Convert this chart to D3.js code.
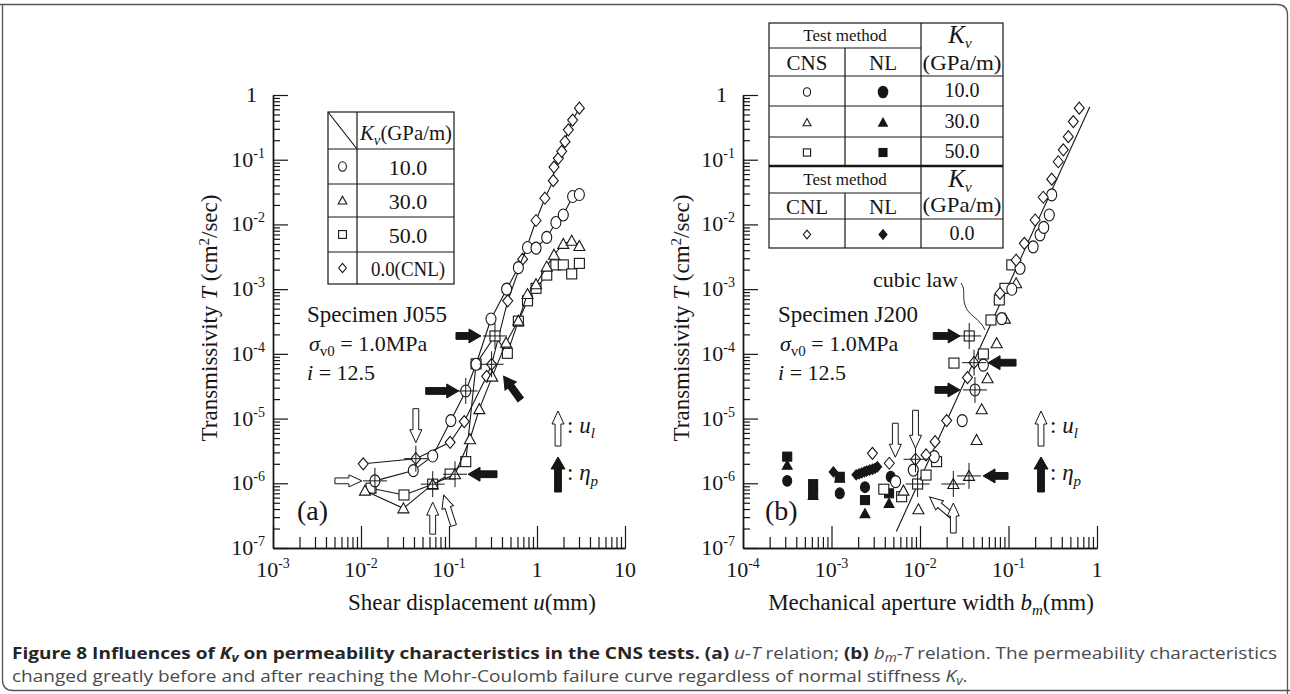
<!DOCTYPE html>
<html><head><meta charset="utf-8">
<script src="https://cdn.jsdelivr.net/npm/d3@7"></script>
<style>body{margin:0;background:#fff}svg{display:block}</style>
</head><body>
<svg id="c" width="1290" height="694"></svg>
<script>
// ---------------- DATA ----------------
// Panel (a): shear displacement u (mm) vs transmissivity T (cm2/sec)
const aCircleU = [0.0144,0.0393,0.0653,0.105,0.155,0.203,0.30,0.452,0.614,0.78,0.975,1.29,1.64,1.99,2.54,3.03];
const aCircleT = [1.09e-6,1.57e-6,2.64e-6,9.3e-6,2.67e-5,6.9e-5,3.46e-4,1.0e-3,2.15e-3,4.4e-3,4.3e-3,6.3e-3,1.07e-2,1.4e-2,2.7e-2,2.9e-2];
const aTriU = [0.0111,0.0303,0.0653,0.117,0.173,0.221,0.31,0.445,0.614,0.78,0.975,1.29,1.56,1.99,2.48,3.03];
const aTriT = [7.7e-7,4.1e-7,9.7e-7,1.38e-6,4.8e-6,1.4e-5,4.45e-5,1.49e-4,3.26e-4,8.4e-4,1.19e-3,2.23e-3,3.4e-3,5.0e-3,5.6e-3,4.65e-3];
const aSqU = [0.013,0.0308,0.0653,0.103,0.155,0.203,0.333,0.46,0.614,0.78,0.975,1.29,1.64,1.99,2.48,3.03];
const aSqT = [8.4e-7,6.6e-7,9.7e-7,1.39e-6,2.16e-6,7.0e-5,1.89e-4,1.02e-4,3.2e-4,6.6e-4,1.03e-3,1.65e-3,2.37e-3,2.37e-3,1.72e-3,2.5e-3];
const aDiaU = [0.0106,0.042,0.103,0.149,0.268,0.305,0.465,0.687,0.975,1.23,1.53,1.56,1.75,1.91,2.08,2.27,2.54,3.03];
const aDiaT = [2.0e-6,2.4e-6,4.3e-6,9e-6,4.5e-5,6.9e-5,6.6e-4,2.9e-3,0.0115,0.0254,0.0475,0.077,0.105,0.135,0.19,0.29,0.41,0.625];
// crossed (marked) points in (a)
const aCrossU = [0.0144,0.042,0.0653,0.117,0.155,0.333,0.305];
const aCrossT = [1.09e-6,2.4e-6,9.7e-7,1.38e-6,2.67e-5,1.89e-4,6.9e-5];

// Panel (b): mechanical aperture b_m (mm) vs T
const bCnsCircleB = [0.0053,0.0084,0.0145,0.030,0.0418,0.052,0.0837,0.109,0.135,0.19,0.227,0.25,0.289,0.308];
const bCnsCircleT = [1.06e-6,1.6e-6,2.58e-6,9.3e-6,2.77e-5,6.7e-5,3.5e-4,9.96e-4,2.1e-3,4.5e-3,6.9e-3,9e-3,0.014,0.0286];
const bCnsTriB = [0.0065,0.0096,0.0238,0.0358,0.0436,0.0498,0.058,0.0735,0.0912,0.122];
const bCnsTriT = [7.7e-7,3.96e-7,9.75e-7,1.3e-6,4.67e-6,1.39e-5,4.2e-5,1.46e-4,3.5e-4,1.23e-3];
const bCnsSqB = [0.0039,0.0062,0.0094,0.0117,0.0154,0.0242,0.036,0.052,0.0634,0.0787,0.0912,0.109];
const bCnsSqT = [8.1e-7,6.2e-7,9.75e-7,1.34e-6,2.16e-6,7.2e-5,1.89e-4,9.96e-5,3.34e-4,6.8e-4,1.03e-3,2.37e-3];
const bCnlDiaB = [0.0029,0.0045,0.0089,0.0117,0.0148,0.020,0.0344,0.0408,0.0802,0.122,0.151,0.2,0.247,0.308,0.365,0.416,0.474,0.54,0.63];
const bCnlDiaT = [2.9e-6,2.04e-6,2.35e-6,2.74e-6,4.4e-6,9.3e-6,4.3e-5,7.3e-5,8.6e-4,2.8e-3,5.1e-3,0.0117,0.0263,0.05,0.093,0.142,0.227,0.388,0.625];
const bNlCircleB = [3.16e-4,1.24e-3,2.39e-3,4.67e-3];
const bNlCircleT = [1.09e-6,7.0e-7,8.7e-7,1.26e-6];
const bNlTriB = [3.16e-4,6.2e-4,1.24e-3,2.39e-3,4.47e-3];
const bNlTriT = [1.9e-6,6.5e-7,1.2e-6,3.4e-7,4.9e-7];
const bNlSqB = [3.16e-4,6.2e-4,6.2e-4,1.24e-3,2.39e-3,4.47e-3];
const bNlSqT = [2.58e-6,9.7e-7,7.0e-7,1.26e-6,5.5e-7,7.0e-7];
const bNlDiaB = [1.05e-3,1.9e-3,2.05e-3,2.2e-3,2.35e-3,2.5e-3,2.7e-3,2.9e-3,3.1e-3,3.3e-3];
const bNlDiaT = [1.5e-6,1.35e-6,1.4e-6,1.45e-6,1.5e-6,1.55e-6,1.6e-6,1.65e-6,1.7e-6,1.8e-6];
const bCrossB = [0.0089,0.036,0.0408,0.0418,0.0358,0.0238,0.0094];
const bCrossT = [2.35e-6,1.89e-4,7.3e-5,2.77e-5,1.3e-6,9.75e-7,9.75e-7];
const cubicB = [0.0054,0.83];
const cubicT = [1.8e-7,0.66];

// legend / tick labels
const kvLabelsA = ["10.0","30.0","50.0","0.0(CNL)"];
const kvLabelsB = ["10.0","30.0","50.0"];
const kvLabelB2 = "0.0";
const yTickExp = [0,-1,-2,-3,-4,-5,-6,-7];
const xTickExpA = [-3,-2,-1,0,1];
const xTickExpB = [-4,-3,-2,-1,0];

// ---------------- DRAW ----------------
const svg = d3.select("#c");
const SERIF = "'Liberation Serif','Times New Roman',serif";
const INK = "#161616";

const yT = d3.scaleLog().domain([1e-7,1]).range([548,95]);
const xA = d3.scaleLog().domain([1e-3,10]).range([273,625]);
const xB = d3.scaleLog().domain([1e-4,1]).range([743,1097]);

function rich(parent, segs, attrs){
  const t = parent.append("text").attr("font-family",SERIF).attr("fill",INK);
  for (const k in attrs) t.attr(k, attrs[k]);
  let cur = 0;
  segs.forEach(s=>{
    const off = s.off||0;
    const sp = t.append("tspan").text(s.t).attr("dy", off-cur);
    cur = off;
    if (s.fs) sp.attr("font-size", s.fs);
    if (s.it) sp.attr("font-style","italic");
    if (s.b) sp.attr("font-weight","bold");
  });
  return t;
}
function expLabel(e){
  if (e===0) return [{t:"1"}];
  if (e===1) return [{t:"10"}];
  return [{t:"10"},{t:String(e),fs:14,off:-9}];
}
function majors(lo,hi){const o=[];for(let e=lo;e<=hi;e++)o.push(Math.pow(10,e));return o;}
function minors(lo,hi){const o=[];for(let e=lo;e<hi;e++)for(let k=2;k<=9;k++)o.push(k*Math.pow(10,e));return o;}

function axes(x, lo, hi, expList, yTitleX, xTitleSegs, xTitleX){
  const g = svg.append("g").attr("stroke-width",1.2);
  const styl = s=>{ s.selectAll("path,line").attr("stroke",INK); s.select(".domain").attr("stroke-width",1.4); };
  g.append("g").attr("transform","translate(0,548)")
    .call(d3.axisBottom(x).tickValues(minors(lo,hi)).tickSize(-11).tickSizeOuter(0).tickFormat("")).call(styl);
  g.append("g").attr("transform","translate(0,548)")
    .call(d3.axisBottom(x).tickValues(majors(lo,hi)).tickSize(-22).tickSizeOuter(0).tickFormat("")).call(styl);
  const x0 = x.range()[0];
  g.append("g").attr("transform",`translate(${x0},0)`)
    .call(d3.axisLeft(yT).tickValues(minors(-7,0)).tickSize(-7).tickSizeOuter(0).tickFormat("")).call(styl);
  g.append("g").attr("transform",`translate(${x0},0)`)
    .call(d3.axisLeft(yT).tickValues(majors(-7,0)).tickSize(-15).tickSizeOuter(0).tickFormat("")).call(styl);
  expList.forEach(e=>{
    rich(svg, expLabel(e), {x:x(Math.pow(10,e)), y:577, "text-anchor":"middle","font-size":22});
  });
  yTickExp.forEach(e=>{
    rich(svg, expLabel(e), {x:x0-(e===0?16:8), y:yT(Math.pow(10,e))+7, "text-anchor":"end","font-size":22});
  });
  rich(svg, [{t:"Transmissivity "},{t:"T",it:true},{t:" (cm"},{t:"2",fs:15,off:-8},{t:"/sec)"}],
    {transform:`translate(${yTitleX},318) rotate(-90)`, "text-anchor":"middle","font-size":23});
  rich(svg, xTitleSegs, {x:xTitleX, y:610, "text-anchor":"middle","font-size":23});
}
axes(xA,-3,1,xTickExpA,217,[{t:"Shear displacement "},{t:"u",it:true},{t:"(mm)"}],472);
axes(xB,-4,0,xTickExpB,689,[{t:"Mechanical aperture width "},{t:"b",it:true},{t:"m",it:true,fs:15,off:5},{t:"(mm)"}],931);

function marker(g, shape, cx, cy, filled, s){
  s = s||1;
  const fill = filled?INK:"#fff";
  let el;
  if (shape==="circle") el = g.append("ellipse").attr("cx",cx).attr("cy",cy).attr("rx",5*s).attr("ry",6*s);
  else if (shape==="tri") el = g.append("path").attr("d",`M${cx},${cy-5.5*s}L${cx+5.5*s},${cy+4.5*s}L${cx-5.5*s},${cy+4.5*s}Z`);
  else if (shape==="sq") el = g.append("rect").attr("x",cx-5*s).attr("y",cy-5*s).attr("width",10*s).attr("height",10*s);
  else el = g.append("path").attr("d",`M${cx},${cy-6*s}L${cx+5*s},${cy}L${cx},${cy+6*s}L${cx-5*s},${cy}Z`);
  el.attr("fill",fill).attr("stroke",INK).attr("stroke-width",1.1);
}
function series(x, X, Y, shape, withLine, filled, s){
  const pts = X.map((v,i)=>[x(v), yT(Y[i])]);
  const g = svg.append("g");
  if (withLine) g.append("path").attr("d", d3.line()(pts)).attr("fill","none").attr("stroke",INK).attr("stroke-width",1.1);
  pts.forEach(p=>marker(g, shape, p[0], p[1], filled, s));
}
series(xA,aDiaU,aDiaT,"dia",true,false);
series(xA,aSqU,aSqT,"sq",true,false);
series(xA,aTriU,aTriT,"tri",true,false);
series(xA,aCircleU,aCircleT,"circle",true,false);

svg.append("path").attr("d", d3.line()(cubicB.map((b,i)=>[xB(b),yT(cubicT[i])])))
  .attr("stroke",INK).attr("stroke-width",1.1).attr("fill","none");
series(xB,bNlCircleB,bNlCircleT,"circle",false,true,0.9);
series(xB,bNlTriB,bNlTriT,"tri",false,true,0.9);
series(xB,bNlSqB,bNlSqT,"sq",false,true,0.9);
series(xB,bNlDiaB,bNlDiaT,"dia",false,true,0.85);
series(xB,bCnsSqB,bCnsSqT,"sq",false,false);
series(xB,bCnsTriB,bCnsTriT,"tri",false,false);
series(xB,bCnsCircleB,bCnsCircleT,"circle",false,false);
series(xB,bCnlDiaB,bCnlDiaT,"dia",false,false);

function crosses(x, X, Y){
  X.forEach((v,i)=>{
    const cx=x(v), cy=yT(Y[i]);
    svg.append("path").attr("d",`M${cx-12},${cy}H${cx+12}M${cx},${cy-13}V${cy+13}`)
      .attr("stroke",INK).attr("stroke-width",1);
  });
}
crosses(xA,aCrossU,aCrossT);
crosses(xB,bCrossB,bCrossT);

function arrow(tx, ty, ang, filled, L){
  const w = filled?3.4:2.9, hw = filled?7:6, hl = filled?12:13;
  const pts=[[0,0],[-hl,hw],[-hl,w],[-L,w],[-L,-w],[-hl,-w],[-hl,-hw]];
  svg.append("path").attr("d","M"+pts.map(p=>p.join(",")).join("L")+"Z")
    .attr("transform",`translate(${tx},${ty}) rotate(${ang})`)
    .attr("fill",filled?INK:"#fff").attr("stroke",INK).attr("stroke-width",1);
}
const arrowsA = [
  {u:0.042,T:2.4e-6,dx:0,dy:-16,ang:90,f:false,L:34},
  {u:0.0144,T:1.09e-6,dx:-13,dy:0,ang:0,f:false,L:27},
  {u:0.0653,T:9.7e-7,dx:0,dy:18,ang:-90,f:false,L:32},
  {u:0.0653,T:9.7e-7,dx:11,dy:11,ang:-108,f:false,L:32},
  {u:0.155,T:2.67e-5,dx:-7,dy:0,ang:0,f:true,L:33},
  {u:0.117,T:1.38e-6,dx:13,dy:0,ang:180,f:true,L:29},
  {u:0.333,T:1.89e-4,dx:-14,dy:0,ang:0,f:true,L:25},
  {u:0.305,T:6.9e-5,dx:12,dy:12,ang:-126,f:true,L:29}
];
arrowsA.forEach(a=>arrow(xA(a.u)+a.dx, yT(a.T)+a.dy, a.ang, a.f, a.L));
const arrowsB = [
  {u:0.036,T:1.89e-4,dx:-9,dy:0,ang:0,f:true,L:27},
  {u:0.0408,T:7.3e-5,dx:14,dy:0,ang:180,f:true,L:28},
  {u:0.0418,T:2.77e-5,dx:-15,dy:0,ang:0,f:true,L:25},
  {u:0.0358,T:1.3e-6,dx:14,dy:0,ang:180,f:true,L:25},
  {u:0.0045,T:2.04e-6,dx:6,dy:-6,ang:90,f:false,L:34},
  {u:0.0089,T:2.35e-6,dx:0,dy:-11,ang:90,f:false,L:38},
  {u:0.0094,T:9.75e-7,dx:12,dy:13,ang:-140,f:false,L:30},
  {u:0.0238,T:9.75e-7,dx:0,dy:19,ang:-90,f:false,L:30}
];
arrowsB.forEach(a=>arrow(xB(a.u)+a.dx, yT(a.T)+a.dy, a.ang, a.f, a.L));

function arrowLegend(ax){
  arrow(ax, 411, -90, false, 35);
  arrow(ax, 457, -90, true, 35);
  rich(svg,[{t:": "},{t:"u",it:true},{t:"l",it:true,fs:15,off:5}],{x:ax+9,y:433,"font-size":23});
  rich(svg,[{t:": "},{t:"η",it:true},{t:"p",it:true,fs:15,off:6}],{x:ax+9,y:480,"font-size":23});
}
arrowLegend(558);
arrowLegend(1041);

function specimen(x, name){
  rich(svg,[{t:"Specimen "+name}],{x:x,y:322,"font-size":23});
  rich(svg,[{t:"σ",it:true},{t:"v0",fs:15,off:5},{t:" = 1.0MPa",off:0}],{x:x+2,y:351,"font-size":22});
  rich(svg,[{t:"i",it:true},{t:" = 12.5"}],{x:x,y:380,"font-size":22});
}
specimen(307,"J055");
specimen(778,"J200");
rich(svg,[{t:"(a)"}],{x:297,y:520,"font-size":28});
rich(svg,[{t:"(b)"}],{x:765,y:520,"font-size":28});
rich(svg,[{t:"cubic law"}],{x:873,y:287,"font-size":22});
svg.append("path").attr("d","M961,283 C966,290 962,296 965,305 C968,316 980,318 985,330")
  .attr("fill","none").attr("stroke",INK).attr("stroke-width",0.9);

// ------- Legend table (a) -------
(function(){
  const g = svg.append("g").attr("stroke",INK).attr("stroke-width",1.2).attr("fill","none");
  const L=328,R=454,C=357, rows=[112,149,184,217,252,284];
  g.append("rect").attr("x",L).attr("y",rows[0]).attr("width",R-L).attr("height",rows[5]-rows[0]);
  rows.slice(1,5).forEach(y=>g.append("line").attr("x1",L).attr("x2",R).attr("y1",y).attr("y2",y));
  g.append("line").attr("x1",C).attr("x2",C).attr("y1",rows[0]).attr("y2",rows[5]);
  g.append("line").attr("x1",L).attr("y1",rows[0]).attr("x2",C).attr("y2",rows[1]);
  rich(svg,[{t:"K",it:true},{t:"v",it:true,fs:15,off:5},{t:"(GPa/m)",off:0}],{x:360,y:140,"font-size":21})
    .attr("textLength",92).attr("lengthAdjust","spacingAndGlyphs");
  const shapes=["circle","tri","sq","dia"];
  kvLabelsA.forEach((lab,i)=>{
    const cy=(rows[i+1]+rows[i+2])/2;
    marker(svg, shapes[i], 342.5, cy, false, 0.78);
    const t = rich(svg,[{t:lab}],{x:408,y:cy+8,"text-anchor":"middle","font-size":22});
    if (lab.length>5) t.attr("textLength",74).attr("lengthAdjust","spacingAndGlyphs");
  });
})();

// ------- Legend table (b) -------
(function(){
  const g = svg.append("g").attr("stroke",INK).attr("stroke-width",1.2).attr("fill","none");
  const X=[769,845,921,1003];
  const Y=[23,48,76,106,137,166,193,219,248];
  g.append("rect").attr("x",X[0]).attr("y",Y[0]).attr("width",X[3]-X[0]).attr("height",Y[8]-Y[0]);
  g.append("line").attr("x1",X[1]).attr("x2",X[1]).attr("y1",Y[1]).attr("y2",Y[5]);
  g.append("line").attr("x1",X[1]).attr("x2",X[1]).attr("y1",Y[6]).attr("y2",Y[8]);
  g.append("line").attr("x1",X[2]).attr("x2",X[2]).attr("y1",Y[0]).attr("y2",Y[8]);
  g.append("line").attr("x1",X[0]).attr("x2",X[2]).attr("y1",Y[1]).attr("y2",Y[1]);
  g.append("line").attr("x1",X[0]).attr("x2",X[2]).attr("y1",Y[6]).attr("y2",Y[6]);
  [Y[2],Y[3],Y[4],Y[7]].forEach(y=>g.append("line").attr("x1",X[0]).attr("x2",X[3]).attr("y1",y).attr("y2",y));
  g.append("line").attr("x1",X[0]).attr("x2",X[3]).attr("y1",Y[5]).attr("y2",Y[5]).attr("stroke-width",2.6);
  const mid=(X[0]+X[2])/2, c1=(X[0]+X[1])/2, c2=(X[1]+X[2])/2, c3=(X[2]+X[3])/2;
  rich(svg,[{t:"Test method"}],{x:mid,y:41,"text-anchor":"middle","font-size":17});
  rich(svg,[{t:"CNS"}],{x:c1,y:70,"text-anchor":"middle","font-size":21});
  rich(svg,[{t:"NL"}],{x:c2,y:70,"text-anchor":"middle","font-size":21});
  rich(svg,[{t:"K",it:true},{t:"v",it:true,fs:15,off:5}],{x:c3-2,y:43,"text-anchor":"middle","font-size":25});
  rich(svg,[{t:"(GPa/m)"}],{x:c3,y:70,"text-anchor":"middle","font-size":21}).attr("textLength",79).attr("lengthAdjust","spacingAndGlyphs");
  const shapes=["circle","tri","sq"];
  kvLabelsB.forEach((lab,i)=>{
    const cy=(Y[i+2]+Y[i+3])/2;
    marker(svg, shapes[i], c1, cy+1, false, 0.72);
    marker(svg, shapes[i], c2, cy+1, true, shapes[i]==="circle"?0.95:0.8);
    rich(svg,[{t:lab}],{x:c3,y:cy+6,"text-anchor":"middle","font-size":20});
  });
  rich(svg,[{t:"Test method"}],{x:mid,y:185,"text-anchor":"middle","font-size":17});
  rich(svg,[{t:"CNL"}],{x:c1,y:214,"text-anchor":"middle","font-size":21});
  rich(svg,[{t:"NL"}],{x:c2,y:214,"text-anchor":"middle","font-size":21});
  rich(svg,[{t:"K",it:true},{t:"v",it:true,fs:15,off:5}],{x:c3-2,y:187,"text-anchor":"middle","font-size":25});
  rich(svg,[{t:"(GPa/m)"}],{x:c3,y:212,"text-anchor":"middle","font-size":21}).attr("textLength",79).attr("lengthAdjust","spacingAndGlyphs");
  const cy=(Y[7]+Y[8])/2;
  marker(svg,"dia",c1,cy+1,false,0.72);
  marker(svg,"dia",c2,cy+1,true,0.8);
  rich(svg,[{t:kvLabelB2}],{x:c3,y:cy+6,"text-anchor":"middle","font-size":20});
})();

// ------- frame & caption -------
svg.append("path").attr("d","M0,4.5 H1277 Q1287.5,4.5 1287.5,15 V694 M2.5,4.5 V680 Q2.5,690.5 13,690.5 H1290")
  .attr("fill","none").attr("stroke","#555").attr("stroke-width",1.3);
const SANS = "'Open Sans','Noto Sans',sans-serif";
const B="#262626", N="#4a4a4a";
function cap(segs){
  const t = svg.append("text").attr("font-family",SANS).attr("font-size",16.5).attr("fill",N);
  let cur=0;
  segs.forEach(s=>{
    const off=s.off||0;
    const sp=t.append("tspan").text(s.t).attr("dy",off-cur); cur=off;
    if(s.b){sp.attr("font-weight","bold").attr("fill",B);}
    if(s.it) sp.attr("font-style","italic");
    if(s.fs) sp.attr("font-size",s.fs);
  });
  return t;
}
const c1 = cap([{t:"Figure 8 Influences of ",b:1},{t:"K",b:1,it:1},{t:"v",b:1,it:1,fs:12,off:3},
  {t:" on permeability characteristics in the CNS tests. (a) ",b:1},{t:"u-T",it:1},{t:" relation; "},
  {t:"(b) ",b:1},{t:"b",it:1},{t:"m",it:1,fs:12,off:3},{t:"-T",it:1},{t:" relation. The permeability characteristics"}]);
const c2 = cap([{t:"changed greatly before and after reaching the Mohr-Coulomb failure curve regardless of normal stiffness "},
  {t:"K",it:1},{t:"v",it:1,fs:12,off:3},{t:"."}]);
const w1 = c1.node().getComputedTextLength();
const sx = 1266/w1;
c1.attr("transform",`translate(12,659) scale(${sx},1)`);
c2.attr("transform",`translate(12,682) scale(${sx},1)`);
</script>
</body></html>
